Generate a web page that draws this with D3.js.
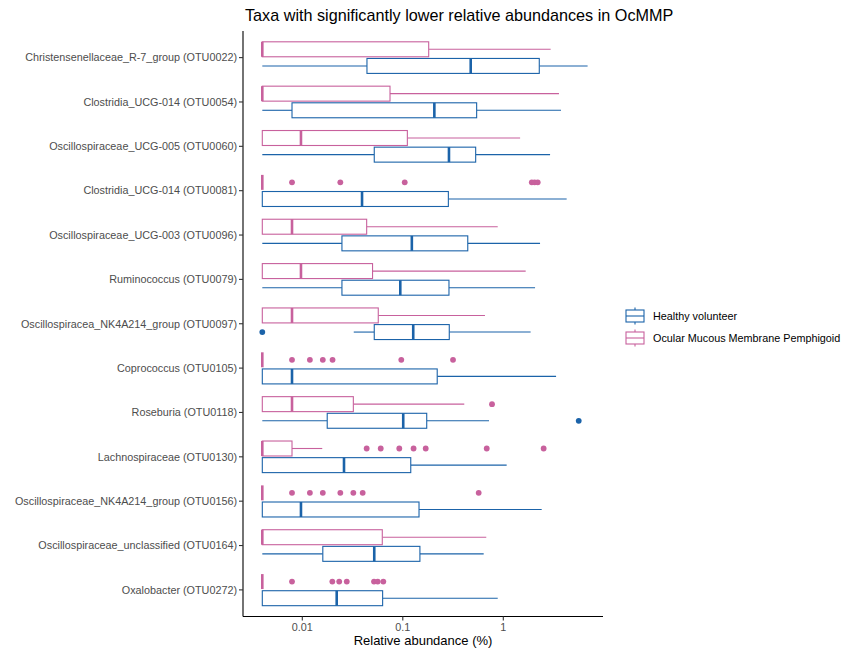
<!DOCTYPE html>
<html>
<head>
<meta charset="utf-8">
<script src="https://cdn.jsdelivr.net/npm/d3@7"></script>
<style>
  html, body { margin: 0; padding: 0; background: #fff; }
  svg { display: block; }
  text { font-family: "Liberation Sans", Arial, Helvetica, sans-serif; }
</style>
</head>
<body>
<div id="chart"></div>
<script>
// ---------------- DATA ----------------
const categories = [
  "Christensenellaceae_R-7_group (OTU0022)",
  "Clostridia_UCG-014 (OTU0054)",
  "Oscillospiraceae_UCG-005 (OTU0060)",
  "Clostridia_UCG-014 (OTU0081)",
  "Oscillospiraceae_UCG-003 (OTU0096)",
  "Ruminococcus (OTU0079)",
  "Oscillospiracea_NK4A214_group (OTU0097)",
  "Coprococcus (OTU0105)",
  "Roseburia (OTU0118)",
  "Lachnospiraceae (OTU0130)",
  "Oscillospiraceae_NK4A214_group (OTU0156)",
  "Oscillospiraceae_unclassified (OTU0164)",
  "Oxalobacter (OTU0272)"
];
const groups = ["Healthy volunteer", "Ocular Mucous Membrane Pemphigoid"];

// Healthy volunteer box statistics (relative abundance, %)
const hvMin = [0.004, 0.004, 0.004, 0.004, 0.004, 0.004, 0.0325, 0.004, 0.004, 0.004, 0.004, 0.004, 0.004];
const hvQ1  = [0.044, 0.0079, 0.052, 0.004, 0.0248, 0.0248, 0.052, 0.004, 0.0177, 0.004, 0.004, 0.016, 0.004];
const hvMed = [0.474, 0.206, 0.288, 0.0393, 0.123, 0.0944, 0.127, 0.0079, 0.101, 0.026, 0.0097, 0.052, 0.022];
const hvQ3  = [2.28, 0.543, 0.531, 0.284, 0.443, 0.288, 0.29, 0.22, 0.173, 0.12, 0.145, 0.148, 0.063];
const hvMax = [6.9, 3.75, 2.92, 4.27, 2.32, 2.07, 1.87, 3.35, 0.721, 1.08, 2.41, 0.638, 0.88];
const hvOut = [[], [], [], [], [], [], [0.004], [], [5.63], [], [], [], []];

// Ocular Mucous Membrane Pemphigoid box statistics
const omMin = [0.004, 0.004, 0.004, 0.004, 0.004, 0.004, 0.004, 0.004, 0.004, 0.004, 0.004, 0.004, 0.004];
const omQ1  = [0.004, 0.004, 0.004, 0.004, 0.004, 0.004, 0.004, 0.004, 0.004, 0.004, 0.004, 0.004, 0.004];
const omMed = [0.004, 0.004, 0.0097, 0.004, 0.0079, 0.0097, 0.0079, 0.004, 0.0079, 0.004, 0.004, 0.004, 0.004];
const omQ3  = [0.181, 0.0746, 0.111, 0.004, 0.0437, 0.05, 0.057, 0.004, 0.0322, 0.0079, 0.004, 0.0625, 0.004];
const omMax = [2.96, 3.58, 1.47, 0.004, 0.88, 1.67, 0.657, 0.004, 0.409, 0.0158, 0.004, 0.677, 0.004];
const omOut = [
  [], [], [],
  [0.0079, 0.0239, 0.1045, 1.92, 2.05, 2.2],
  [], [], [],
  [0.0079, 0.0119, 0.016, 0.02, 0.0966, 0.316],
  [0.772],
  [0.0437, 0.0603, 0.0923, 0.128, 0.169, 0.684, 2.52],
  [0.0079, 0.0119, 0.016, 0.0239, 0.0322, 0.0399, 0.569],
  [],
  [0.0079, 0.0199, 0.0233, 0.0277, 0.0517, 0.0563, 0.064]
];

const xTicks = [0.01, 0.1, 1];
const xTickLabels = ["0.01", "0.1", "1"];

const title = "Taxa with significantly lower relative abundances in OcMMP";
const xTitle = "Relative abundance (%)";

// ---------------- LAYOUT ----------------
const W = 842, H = 649;
const colors = { "Healthy volunteer": "#1b63a9", "Ocular Mucous Membrane Pemphigoid": "#c8619d" };
const panel = { left: 243, right: 603, top: 31, bottom: 616.5 };

const svg = d3.select("#chart").append("svg").attr("width", W).attr("height", H);

const x = d3.scaleLog()
  .domain([Math.pow(10, -2.590), Math.pow(10, 0.992)])
  .range([panel.left, panel.right]);

const y = d3.scalePoint()
  .domain(categories)
  .range([panel.top, panel.bottom])
  .padding(0.6);

const step = y.step();
const dodge = d3.scaleBand()
  .domain(["Ocular Mucous Membrane Pemphigoid", "Healthy volunteer"])
  .range([-0.375 * step, 0.375 * step]);
const boxH = dodge.bandwidth() * 0.9;

// build records
const records = [];
categories.forEach((c, i) => {
  records.push({ cat: c, grp: groups[0], min: hvMin[i], q1: hvQ1[i], med: hvMed[i], q3: hvQ3[i], max: hvMax[i], out: hvOut[i] });
  records.push({ cat: c, grp: groups[1], min: omMin[i], q1: omQ1[i], med: omMed[i], q3: omQ3[i], max: omMax[i], out: omOut[i] });
});

const g = svg.append("g");

records.forEach(r => {
  const cy = y(r.cat) + dodge(r.grp) + dodge.bandwidth() / 2;
  const col = colors[r.grp];
  const gg = g.append("g");
  // whiskers
  if (r.max > r.q3) gg.append("line").attr("x1", x(r.q3)).attr("x2", x(r.max)).attr("y1", cy).attr("y2", cy)
    .attr("stroke", col).attr("stroke-width", 1.1);
  if (r.min < r.q1) gg.append("line").attr("x1", x(r.min)).attr("x2", x(r.q1)).attr("y1", cy).attr("y2", cy)
    .attr("stroke", col).attr("stroke-width", 1.1);
  // box
  gg.append("rect")
    .attr("x", x(r.q1)).attr("y", cy - boxH / 2)
    .attr("width", Math.max(0, x(r.q3) - x(r.q1))).attr("height", boxH)
    .attr("fill", "#fff").attr("stroke", col).attr("stroke-width", 1.1);
  // median
  gg.append("line").attr("x1", x(r.med)).attr("x2", x(r.med))
    .attr("y1", cy - boxH / 2).attr("y2", cy + boxH / 2)
    .attr("stroke", col).attr("stroke-width", 2.6);
  // outliers
  gg.selectAll("circle").data(r.out).join("circle")
    .attr("cx", d => x(d)).attr("cy", cy).attr("r", 2.9).attr("fill", col);
});

// axes lines
const axisCol = "#000";
svg.append("line").attr("x1", panel.left).attr("x2", panel.left).attr("y1", panel.top).attr("y2", panel.bottom)
  .attr("stroke", axisCol).attr("stroke-width", 1.1);
svg.append("line").attr("x1", panel.left).attr("x2", panel.right).attr("y1", panel.bottom).attr("y2", panel.bottom)
  .attr("stroke", axisCol).attr("stroke-width", 1.1);

// y ticks + labels
categories.forEach(c => {
  svg.append("line").attr("x1", panel.left - 4).attr("x2", panel.left).attr("y1", y(c)).attr("y2", y(c))
    .attr("stroke", "#333").attr("stroke-width", 1.1);
  svg.append("text").attr("x", panel.left - 6).attr("y", y(c)).attr("dy", "0.35em")
    .attr("text-anchor", "end").attr("font-size", 10.8).attr("fill", "#4d4d4d").text(c);
});

// x ticks + labels
xTicks.forEach((t, i) => {
  svg.append("line").attr("x1", x(t)).attr("x2", x(t)).attr("y1", panel.bottom).attr("y2", panel.bottom + 4)
    .attr("stroke", "#333").attr("stroke-width", 1.1);
  svg.append("text").attr("x", x(t)).attr("y", panel.bottom + 14)
    .attr("text-anchor", "middle").attr("font-size", 10.8).attr("fill", "#4d4d4d").text(xTickLabels[i]);
});

// titles
svg.append("text").attr("x", 245).attr("y", 21).attr("font-size", 16.2).attr("fill", "#000").text(title);
svg.append("text").attr("x", (panel.left + panel.right) / 2).attr("y", 645)
  .attr("text-anchor", "middle").attr("font-size", 13).attr("fill", "#000").text(xTitle);

// legend
const legY = [316, 338];
groups.forEach((grp, i) => {
  const col = colors[grp];
  const cx = 635, cy = legY[i];
  const lg = svg.append("g");
  lg.append("line").attr("x1", cx).attr("x2", cx).attr("y1", cy - 8.5).attr("y2", cy + 8.5)
    .attr("stroke", col).attr("stroke-width", 1.1);
  lg.append("rect").attr("x", cx - 9).attr("y", cy - 6).attr("width", 18).attr("height", 12)
    .attr("fill", "#fff").attr("stroke", col).attr("stroke-width", 1.1);
  lg.append("line").attr("x1", cx - 9).attr("x2", cx + 9).attr("y1", cy).attr("y2", cy)
    .attr("stroke", col).attr("stroke-width", 1.1);
  lg.append("text").attr("x", 653).attr("y", cy).attr("dy", "0.35em")
    .attr("font-size", 10.8).attr("fill", "#000").text(grp);
});
</script>
</body>
</html>
